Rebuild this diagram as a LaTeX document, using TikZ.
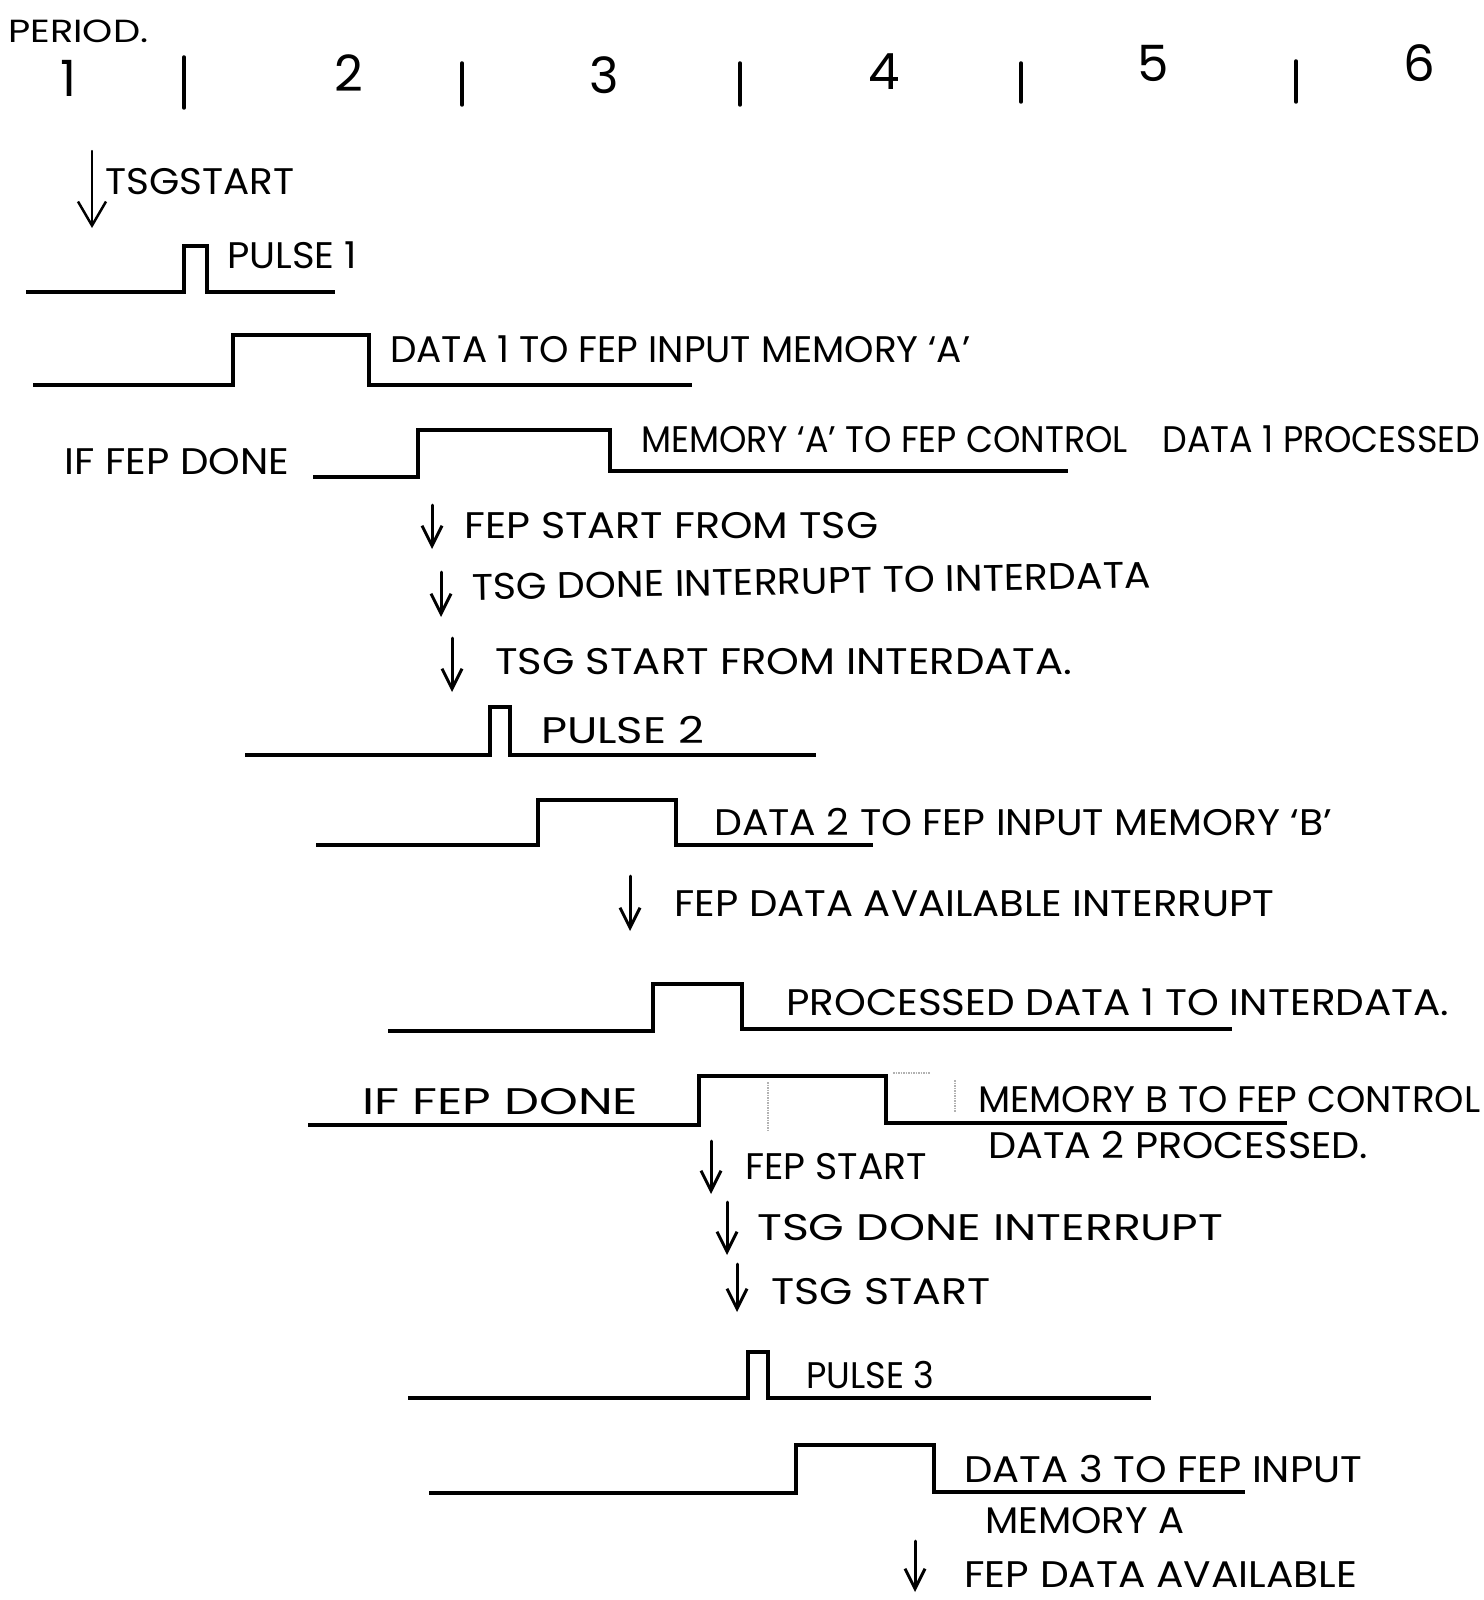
\documentclass[tikz,border=0pt]{standalone}
\usepackage{fontspec}
\setmainfont{Poppins}
\usetikzlibrary{arrows.meta}
% stretch a label horizontally to a given width, keeping its height
\newcommand{\fitto}[2]{\resizebox{#1}{\height}{#2}}

\begin{document}
\begin{tikzpicture}[x=1pt,y=-1pt,
  wave/.style={line width=4pt, line join=miter, line cap=butt},
  tickmark/.style={line width=3.5pt, line cap=round},
  event/.style={line width=3pt, line cap=round,
    -{Straight Barb[length=20pt,width=20pt,line width=3pt]}},
  bigevent/.style={line width=2.5pt, line cap=round,
    -{Straight Barb[length=24pt,width=28pt,line width=2.5pt]}},
  lbl/.style={anchor=base west, inner sep=0pt, font=\fontsize{37}{40}\selectfont},
  num/.style={anchor=base, inner sep=0pt, font=\fontsize{50}{54}\selectfont},
  faint/.style={gray!60, line width=1.5pt, densely dotted}]

\useasboundingbox[fill=white] (0,0) rectangle (1483,1600);

% ---------- period scale ----------
\node[lbl, font=\fontsize{32}{34}\selectfont] (period) at (8,43) {\fitto{140pt}{PERIOD.}};
\node[num] (p1) at (68,97) {1};
\node[num] (p2) at (349,92) {2};
\node[num] (p3) at (604,94) {3};
\node[num] (p4) at (884,90) {4};
\node[num] (p5) at (1153,82) {5};
\node[num] (p6) at (1419,82) {6};
\draw[tickmark] (184,57) -- (184,108);
\draw[tickmark] (462,63) -- (462,105);
\draw[tickmark] (740,63) -- (740,105);
\draw[tickmark] (1021,63) -- (1021,102);
\draw[tickmark] (1296,61) -- (1296,102);

% ---------- first cycle ----------
\coordinate (e1t) at (92,151); \coordinate (e1b) at (92,228);
\draw[bigevent] (e1t) -- (e1b);
\node[lbl] (tsgstart) at (105,194) {\fitto{189pt}{TSGSTART}};

\draw[wave] (26,292) -- (184,292) -- (184,246) -- (207,246) -- (207,292) -- (335,292);
\node[lbl] (pulse1) at (227,268) {\fitto{130pt}{PULSE 1}};

\draw[wave] (33,385) -- (233,385) -- (233,335) -- (369,335) -- (369,385) -- (692,385);
\node[lbl] (data1) at (390,362) {\fitto{580pt}{DATA 1 TO FEP INPUT MEMORY `A'}};

\node[lbl] (iffep1) at (64,474) {\fitto{225pt}{IF FEP DONE}};
\draw[wave] (313,477) -- (418,477) -- (418,430) -- (610,430) -- (610,471) -- (1068,471);
\node[lbl] (memA) at (641,452) {\fitto{839pt}{MEMORY `A' TO FEP CONTROL\quad DATA 1 PROCESSED}};

\coordinate (e2t) at (432,505); \coordinate (e2b) at (432,549);
\draw[event] (e2t) -- (e2b);
\node[lbl] (fepstart1) at (464,538) {\fitto{414pt}{FEP START FROM TSG}};

\coordinate (e3t) at (441,572); \coordinate (e3b) at (441,617);
\draw[event] (e3t) -- (e3b);
\node[lbl, rotate=1] (tsgdone1) at (472,600) {\fitto{679pt}{TSG DONE INTERRUPT TO INTERDATA}};

\coordinate (e4t) at (452,638); \coordinate (e4b) at (452,692);
\draw[event] (e4t) -- (e4b);
\node[lbl] (tsgstart2) at (495,674) {\fitto{577pt}{TSG START FROM INTERDATA.}};

% ---------- second cycle ----------
\draw[wave] (245,755) -- (490,755) -- (490,707) -- (510,707) -- (510,755) -- (816,755);
\node[lbl] (pulse2) at (541,743) {\fitto{163pt}{PULSE 2}};

\draw[wave] (316,845) -- (538,845) -- (538,800) -- (676,800) -- (676,845) -- (873,845);
\node[lbl] (data2) at (714,835) {\fitto{618pt}{DATA 2 TO FEP INPUT MEMORY `B'}};

\coordinate (e5t) at (630,876); \coordinate (e5b) at (630,931);
\draw[event] (e5t) -- (e5b);
\node[lbl] (fepavail1) at (674,916) {\fitto{600pt}{FEP DATA AVAILABLE INTERRUPT}};

\draw[wave] (388,1031) -- (653,1031) -- (653,984) -- (742,984) -- (742,1029) -- (1232,1029);
\node[lbl] (proc1) at (786,1015) {\fitto{663pt}{PROCESSED DATA 1 TO INTERDATA.}};

\node[lbl] (iffep2) at (362,1114) {\fitto{276pt}{IF FEP DONE}};
\draw[wave] (308,1125) -- (699,1125) -- (699,1076) -- (886,1076) -- (886,1123) -- (1287,1123);
\draw[faint] (768,1082) -- (768,1132);
\draw[faint] (893,1073) -- (930,1073);
\draw[faint] (955,1080) -- (955,1112);
\node[lbl] (memB) at (978,1112) {\fitto{502pt}{MEMORY B TO FEP CONTROL}};
\node[lbl] (data2proc) at (988,1158) {\fitto{380pt}{DATA 2 PROCESSED.}};

\coordinate (e6t) at (711,1141); \coordinate (e6b) at (711,1194);
\draw[event] (e6t) -- (e6b);
\node[lbl] (fepstart2) at (745,1179) {\fitto{182pt}{FEP START}};

\coordinate (e7t) at (727,1202); \coordinate (e7b) at (727,1255);
\draw[event] (e7t) -- (e7b);
\node[lbl] (tsgdone2) at (757,1240) {\fitto{466pt}{TSG DONE INTERRUPT}};

\coordinate (e8t) at (737,1264); \coordinate (e8b) at (737,1312);
\draw[event] (e8t) -- (e8b);
\node[lbl] (tsgstart3) at (771,1304) {\fitto{219pt}{TSG START}};

% ---------- third cycle ----------
\draw[wave] (408,1398) -- (748,1398) -- (748,1352) -- (768,1352) -- (768,1398) -- (1151,1398);
\node[lbl] (pulse3) at (806,1388) {\fitto{128pt}{PULSE 3}};

\draw[wave] (429,1493) -- (796,1493) -- (796,1445) -- (934,1445) -- (934,1492) -- (1245,1492);
\node[lbl] (data3) at (964,1482) {\fitto{398pt}{DATA 3 TO FEP INPUT}};
\node[lbl] (memA2) at (985,1533) {\fitto{199pt}{MEMORY A}};

\coordinate (e9t) at (915,1541); \coordinate (e9b) at (915,1592);
\draw[event] (e9t) -- (e9b);
\node[lbl] (fepavail2) at (964,1587) {\fitto{393pt}{FEP DATA AVAILABLE}};

\end{tikzpicture}
\end{document}
